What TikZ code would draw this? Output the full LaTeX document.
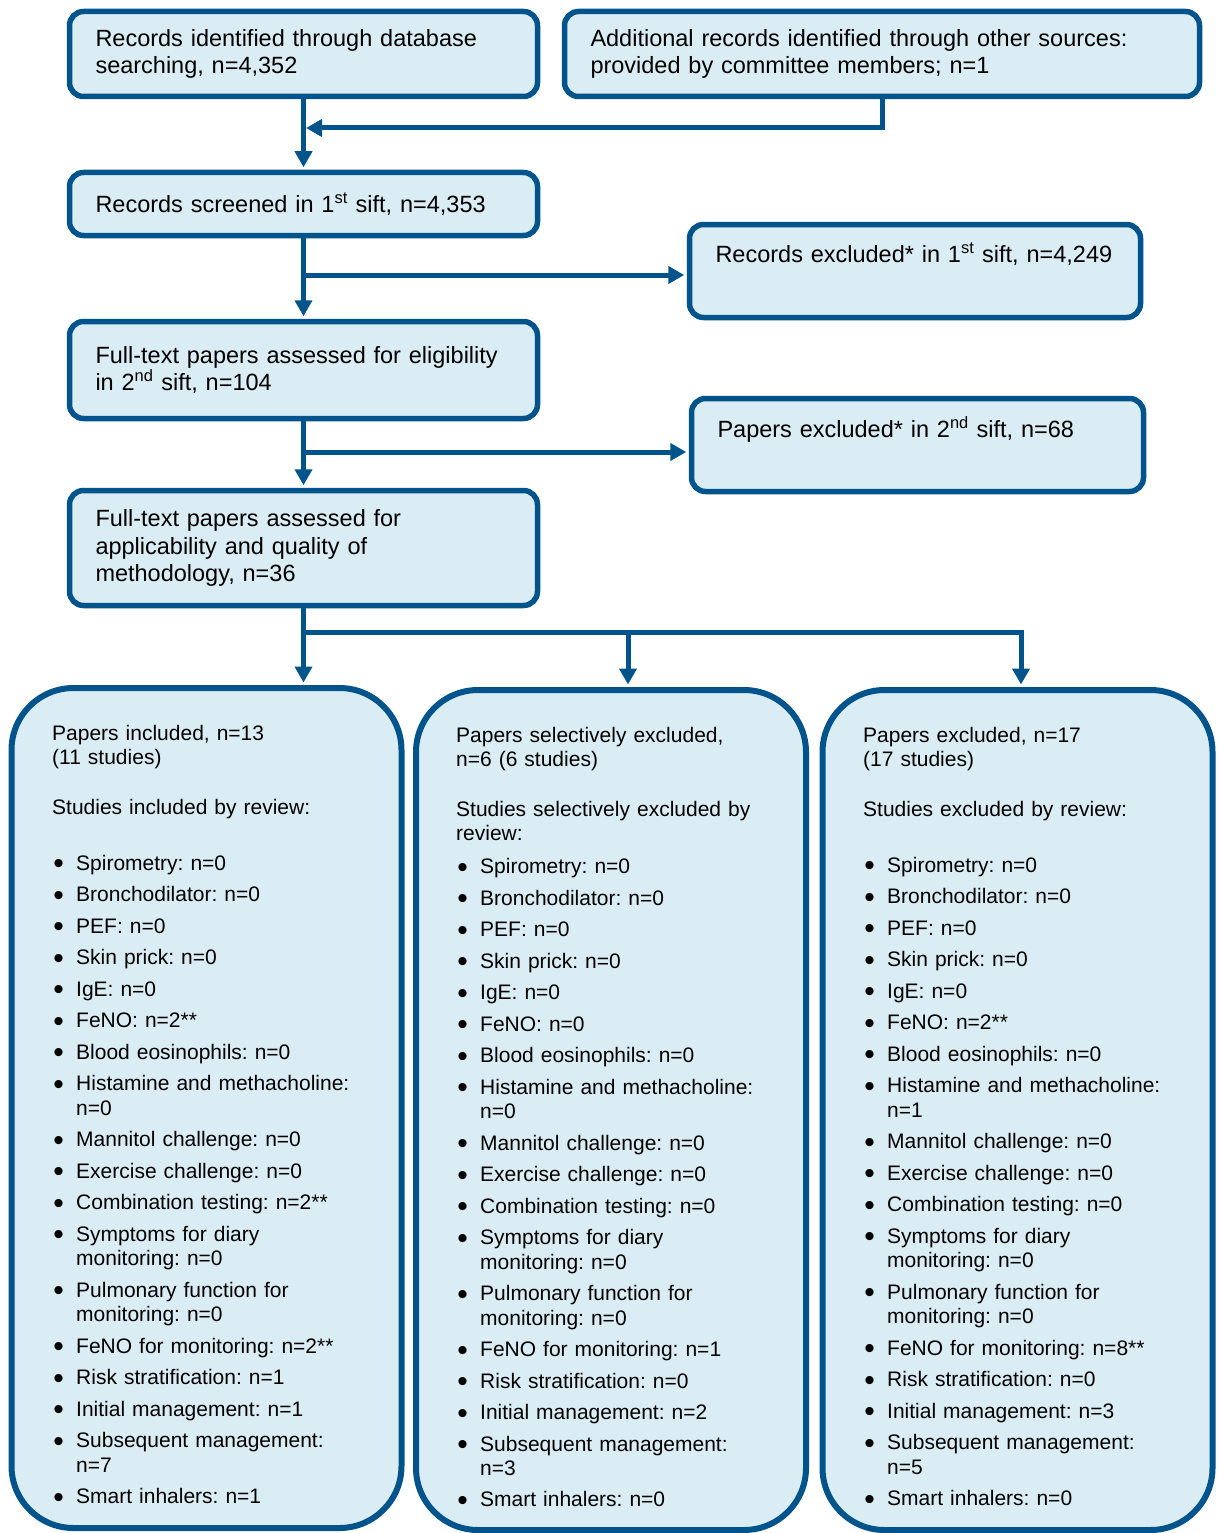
\documentclass[tikz,border=0pt]{standalone}
\usepackage{fontspec}
\setmainfont{Liberation Sans}
\usetikzlibrary{arrows.meta}

\definecolor{boxline}{RGB}{1,84,139}
\definecolor{boxfill}{RGB}{219,237,244}

\newcommand{\bigdot}{\raisebox{-3.5pt}{\fontsize{30}{0}\selectfont\textbullet}}

\newenvironment{testlist}{%
	\begin{list}{\bigdot}{%
		\setlength{\leftmargin}{24pt}%
		\setlength{\labelwidth}{24pt}%
		\setlength{\labelsep}{0pt}%
		\setlength{\itemsep}{7.1pt}%
		\setlength{\parsep}{0pt}%
		\setlength{\topsep}{0pt}%
		\setlength{\partopsep}{0pt}%
		\renewcommand{\makelabel}[1]{\hspace{1.2pt}##1\hfil}}}%
	{\end{list}}

\tikzset{
	stage/.style={draw=boxline, fill=boxfill, line width=5.5pt, rounded corners=14pt, inner xsep=26pt, inner ysep=0pt, align=left, font=\fontsize{23.5}{27.7}\selectfont},
	outcome/.style={draw=boxline, fill=boxfill, line width=6pt, rounded corners=62pt, minimum width=390pt, minimum height=840pt},
	outcometext/.style={anchor=base west, inner sep=0pt, text width=335pt, align=left, font=\fontsize{21}{24.4}\selectfont},
	flow/.style={draw=boxline, line width=5pt, shorten >=2.5pt, -{Triangle[width=17pt,length=16pt]}},
}

\begin{document}
\frenchspacing
\begin{tikzpicture}[x=1pt, y=-1pt]
				
				\useasboundingbox (0,0) rectangle (1219,1533);
				
				\node[stage, text width=416pt, minimum height=85pt] (RecDb) at (303.5,54) {Records identified through database\\searching, n=4,352};
				\node[stage, text width=583pt, minimum height=85pt] (RecOther) at (882,54) {Additional records identified through other sources:\\provided by committee members; n=1};
				\node[stage, text width=416pt, minimum height=63pt] (Screen1) at (303.5,204) {Records screened in 1\textsuperscript{st} sift, n=4,353};
				\node[stage, text width=399pt, minimum height=93pt] (Excl1) at (915,271) {Records excluded* in 1\textsuperscript{st} sift, n=4,249\\\strut};
				\node[stage, text width=416pt, minimum height=97pt] (Elig2) at (303.5,370) {Full-text papers assessed for eligibility\\in 2\textsuperscript{nd} sift, n=104};
				\node[stage, text width=400pt, minimum height=93pt] (Excl2) at (917.5,445) {Papers excluded* in 2\textsuperscript{nd} sift, n=68\\\strut};
				\node[stage, text width=416pt, minimum height=115pt] (Assess) at (303.5,548) {Full-text papers assessed for\\applicability and quality of\\methodology, n=36};
				
				\node[outcome] (Incl) at (206.5,1108) {};
				\node[outcome] (SelExcl) at (611,1110) {};
				\node[outcome] (Excl) at (1017.5,1110) {};
				
				\node[outcometext] (InclText) at (52,740) {Papers included, n=13\\(11 studies)\par\vspace{25.6pt}
					Studies included by review:\par\vspace{31.6pt}
					\begin{testlist}
						\item Spirometry: n=0
						\item Bronchodilator: n=0
						\item PEF: n=0
						\item Skin prick: n=0
						\item IgE: n=0
						\item FeNO: n=2**
						\item Blood eosinophils: n=0
						\item Histamine and methacholine:\newline n=0
						\item Mannitol challenge: n=0
						\item Exercise challenge: n=0
						\item Combination testing: n=2**
						\item Symptoms for diary\newline monitoring: n=0
						\item Pulmonary function for\newline monitoring: n=0
						\item FeNO for monitoring: n=2**
						\item Risk stratification: n=1
						\item Initial management: n=1
						\item Subsequent management:\newline n=7
						\item Smart inhalers: n=1
					\end{testlist}};
				\node[outcometext] (SelExclText) at (456,742) {Papers selectively excluded,\\n=6 (6 studies)\par\vspace{25.6pt}
					Studies selectively excluded by\\review:\par\vspace{8.6pt}
					\begin{testlist}
						\item Spirometry: n=0
						\item Bronchodilator: n=0
						\item PEF: n=0
						\item Skin prick: n=0
						\item IgE: n=0
						\item FeNO: n=0
						\item Blood eosinophils: n=0
						\item Histamine and methacholine:\newline n=0
						\item Mannitol challenge: n=0
						\item Exercise challenge: n=0
						\item Combination testing: n=0
						\item Symptoms for diary\newline monitoring: n=0
						\item Pulmonary function for\newline monitoring: n=0
						\item FeNO for monitoring: n=1
						\item Risk stratification: n=0
						\item Initial management: n=2
						\item Subsequent management:\newline n=3
						\item Smart inhalers: n=0
					\end{testlist}};
				\node[outcometext] (ExclText) at (863,742) {Papers excluded, n=17\\(17 studies)\par\vspace{25.6pt}
					Studies excluded by review:\par\vspace{31.6pt}
					\begin{testlist}
						\item Spirometry: n=0
						\item Bronchodilator: n=0
						\item PEF: n=0
						\item Skin prick: n=0
						\item IgE: n=0
						\item FeNO: n=2**
						\item Blood eosinophils: n=0
						\item Histamine and methacholine:\newline n=1
						\item Mannitol challenge: n=0
						\item Exercise challenge: n=0
						\item Combination testing: n=0
						\item Symptoms for diary\newline monitoring: n=0
						\item Pulmonary function for\newline monitoring: n=0
						\item FeNO for monitoring: n=8**
						\item Risk stratification: n=0
						\item Initial management: n=3
						\item Subsequent management:\newline n=5
						\item Smart inhalers: n=0
					\end{testlist}};
				
				\coordinate (Merge) at (303.5,128);
				\coordinate (Split1) at (303.5,275);
				\coordinate (Split2) at (303.5,452);
				\coordinate (Split3) at (303.5,632);
				\coordinate (Drop2) at (628,632);
				\coordinate (Drop3) at (1021,632);
				
				\draw[flow] (RecDb.south) -- (Screen1.north);
				\draw[flow] (RecOther.south) |- (Merge);
				\draw[flow] (Screen1.south) -- (Elig2.north);
				\draw[flow] (Split1) -- (Split1 -| Excl1.west);
				\draw[flow] (Elig2.south) -- (Assess.north);
				\draw[flow] (Split2) -- (Split2 -| Excl2.west);
				\draw[flow] (Assess.south) -- (Assess.south |- Incl.north);
				\draw[flow] (Split3) -| (Drop3 |- Excl.north);
				\draw[flow] (Drop2) -- (Drop2 |- SelExcl.north);
				
			\end{tikzpicture}
\end{document}
